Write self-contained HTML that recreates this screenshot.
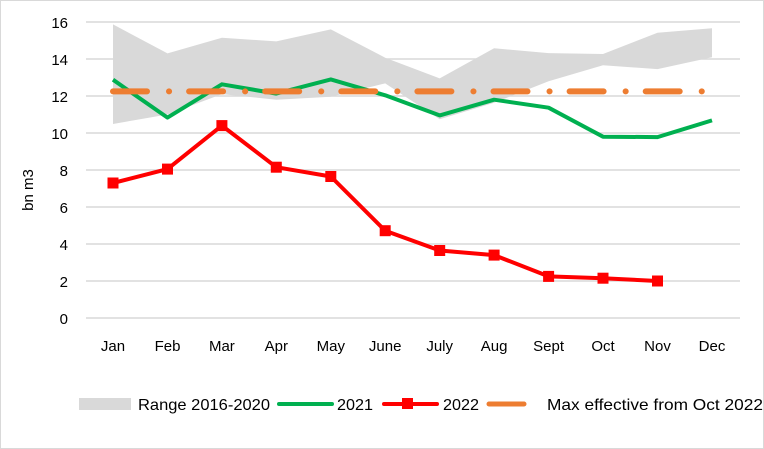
<!DOCTYPE html><html><head><style>body{margin:0;background:#fff}svg{display:block;font-family:"Liberation Sans",sans-serif}</style></head><body>
<svg width="764" height="449" xmlns="http://www.w3.org/2000/svg">
<rect x="0.5" y="0.5" width="763" height="448" fill="#fff" stroke="#d9d9d9"/>
<g stroke="#d9d9d9" stroke-width="1.5">
<line x1="86" x2="740" y1="22" y2="22"/><line x1="86" x2="740" y1="59" y2="59"/><line x1="86" x2="740" y1="96" y2="96"/><line x1="86" x2="740" y1="133" y2="133"/><line x1="86" x2="740" y1="170" y2="170"/><line x1="86" x2="740" y1="207" y2="207"/><line x1="86" x2="740" y1="244" y2="244"/><line x1="86" x2="740" y1="281" y2="281"/><line x1="86" x2="740" y1="318" y2="318"/>
</g>
<polygon fill="#d9d9d9" points="113,24.4 167.5,53.4 221.9,37.7 276.3,41.4 330.8,29.4 385.2,57.7 439.7,78.4 494.1,48.3 548.6,53.1 603,54 657.5,32.7 712,28.2 712,57.2 657.5,69.1 603,65.3 548.6,81.2 494.1,102.7 439.7,119.3 385.2,83.4 330.8,96.7 276.3,99.7 221.9,94.1 167.5,114.5 113,124"/>
<g font-size="15" fill="#000" text-anchor="end">
<text x="68" y="28">16</text><text x="68" y="65">14</text><text x="68" y="102">12</text><text x="68" y="139">10</text><text x="68" y="176">8</text><text x="68" y="213">6</text><text x="68" y="250">4</text><text x="68" y="287">2</text><text x="68" y="324">0</text>
</g>
<text x="33" y="190" font-size="15" text-anchor="middle" transform="rotate(-90 33 190)">bn m3</text>
<g font-size="15" text-anchor="middle">
<text x="113" y="351">Jan</text><text x="167.5" y="351">Feb</text><text x="221.9" y="351">Mar</text><text x="276.3" y="351">Apr</text><text x="330.8" y="351">May</text><text x="385.2" y="351">June</text><text x="439.7" y="351">July</text><text x="494.1" y="351">Aug</text><text x="548.6" y="351">Sept</text><text x="603" y="351">Oct</text><text x="657.5" y="351">Nov</text><text x="712" y="351">Dec</text>
</g>
<polyline fill="none" stroke="#00b050" stroke-width="4" stroke-linejoin="round" points="113,79.7 167.5,117.6 221.9,84.3 276.3,93.6 330.8,79.4 385.2,95.3 439.7,115.4 494.1,99.7 548.6,107.7 603,136.7 657.5,137.1 712,120.4"/>
<line x1="113" x2="712" y1="91.4" y2="91.4" stroke="#ed7d31" stroke-width="6" stroke-linecap="round" stroke-dasharray="34 22 0.1 20"/>
<polyline fill="none" stroke="#ff0000" stroke-width="4" stroke-linejoin="round" points="113,183 167.5,169.1 221.9,125.6 276.3,167.2 330.8,176.5 385.2,230.7 439.7,250.5 494.1,255.1 548.6,276.4 603,278.2 657.5,281"/>
<g fill="#ff0000">
<rect x="107.5" y="177.5" width="11" height="11"/><rect x="162" y="163.6" width="11" height="11"/><rect x="216.4" y="120.1" width="11" height="11"/><rect x="270.8" y="161.7" width="11" height="11"/><rect x="325.3" y="171" width="11" height="11"/><rect x="379.7" y="225.2" width="11" height="11"/><rect x="434.2" y="245" width="11" height="11"/><rect x="488.6" y="249.6" width="11" height="11"/><rect x="543.1" y="270.9" width="11" height="11"/><rect x="597.5" y="272.7" width="11" height="11"/><rect x="652" y="275.5" width="11" height="11"/>
</g>
<rect x="79" y="398" width="52" height="12" fill="#d9d9d9"/>
<text x="138" y="410" font-size="16" textLength="132" lengthAdjust="spacingAndGlyphs">Range 2016-2020</text>
<line x1="279" x2="332" y1="404" y2="404" stroke="#00b050" stroke-width="4" stroke-linecap="round"/>
<text x="337" y="410" font-size="16" textLength="36" lengthAdjust="spacingAndGlyphs">2021</text>
<line x1="384" x2="437" y1="404" y2="404" stroke="#ff0000" stroke-width="4" stroke-linecap="round"/>
<rect x="402" y="398" width="11" height="11" fill="#ff0000"/>
<text x="443" y="410" font-size="16" textLength="36" lengthAdjust="spacingAndGlyphs">2022</text>
<line x1="489" x2="524" y1="404" y2="404" stroke="#ed7d31" stroke-width="5" stroke-linecap="round"/>
<text x="547" y="410" font-size="16" textLength="216" lengthAdjust="spacingAndGlyphs">Max effective from Oct 2022</text>
</svg>
</body></html>
